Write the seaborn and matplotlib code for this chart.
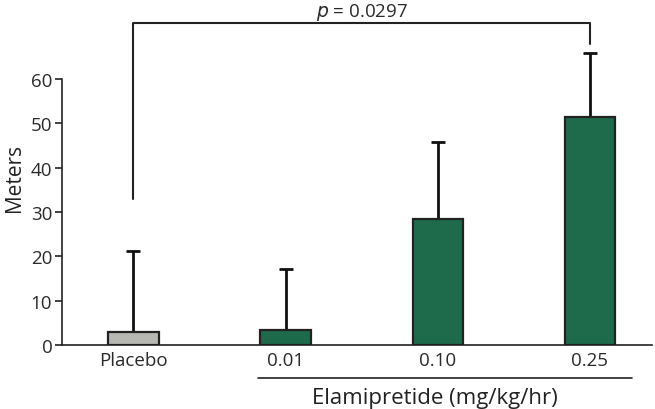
import matplotlib
matplotlib.use('Agg')
import matplotlib.pyplot as plt
import seaborn as sns

groups = ["Placebo", "0.01", "0.10", "0.25"]
means = [3.0, 3.3, 28.4, 51.5]
upper_err = [18.2, 13.9, 17.5, 14.4]
bar_colors = ["#b8b8b3", "#1d6b4b", "#1d6b4b", "#1d6b4b"]
p_text = "$\\it{p}$ = 0.0297"
group_label = "Elamipretide (mg/kg/hr)"

sns.set_style("ticks")
plt.rcParams['font.family'] = ['Open Sans', 'DejaVu Sans']

fig = plt.figure(figsize=(6.55, 4.10), dpi=100)
ax = fig.add_axes([62/655, 1-346/410, 590/655, 336/410])

sns.barplot(x=groups, y=means, hue=groups, palette=bar_colors, width=0.33,
            saturation=1, edgecolor="#222222", linewidth=1.6, legend=False, ax=ax)
ax.errorbar(range(len(groups)), means, yerr=[[0]*len(groups), upper_err],
            fmt="none", ecolor="#111111", elinewidth=2.0, capsize=5, capthick=2.0,
            zorder=1)
for p in ax.patches:
    p.set_zorder(2)

ax.set_xlim(-0.47, 3.41)
ax.set_ylim(0, 75.8)
ax.set_yticks([0, 10, 20, 30, 40, 50, 60])
ax.spines['left'].set_bounds(0, 60)
ax.spines['top'].set_visible(False)
ax.spines['right'].set_visible(False)
for s in ['left', 'bottom']:
    ax.spines[s].set_linewidth(1.2)
    ax.spines[s].set_color("#222222")
ax.tick_params(axis='y', length=5, width=1.2, color="#222222", labelsize=13.5, pad=2,
               labelcolor="#2a2a2a")
ax.tick_params(axis='x', length=0, labelsize=13.5, pad=4, labelcolor="#2a2a2a")
ax.set_ylabel("Meters", fontsize=15, color="#222222", labelpad=4)

# significance bracket
ax.plot([0, 0, 3, 3], [33, 72.7, 72.7, 68], color="#222222", lw=1.5, clip_on=False)
ax.text(1.5, 72.9, p_text, ha="center", va="bottom", fontsize=13.5, color="#2a2a2a")

# group line and label under the dose ticks
ax.plot([0.82, 3.28], [-7.5, -7.5], color="#222222", lw=1.2, clip_on=False)
ax.text(1.98, -9.5, group_label, ha="center", va="top", fontsize=16, color="#222222")

fig.savefig("out.png", dpi=100)
